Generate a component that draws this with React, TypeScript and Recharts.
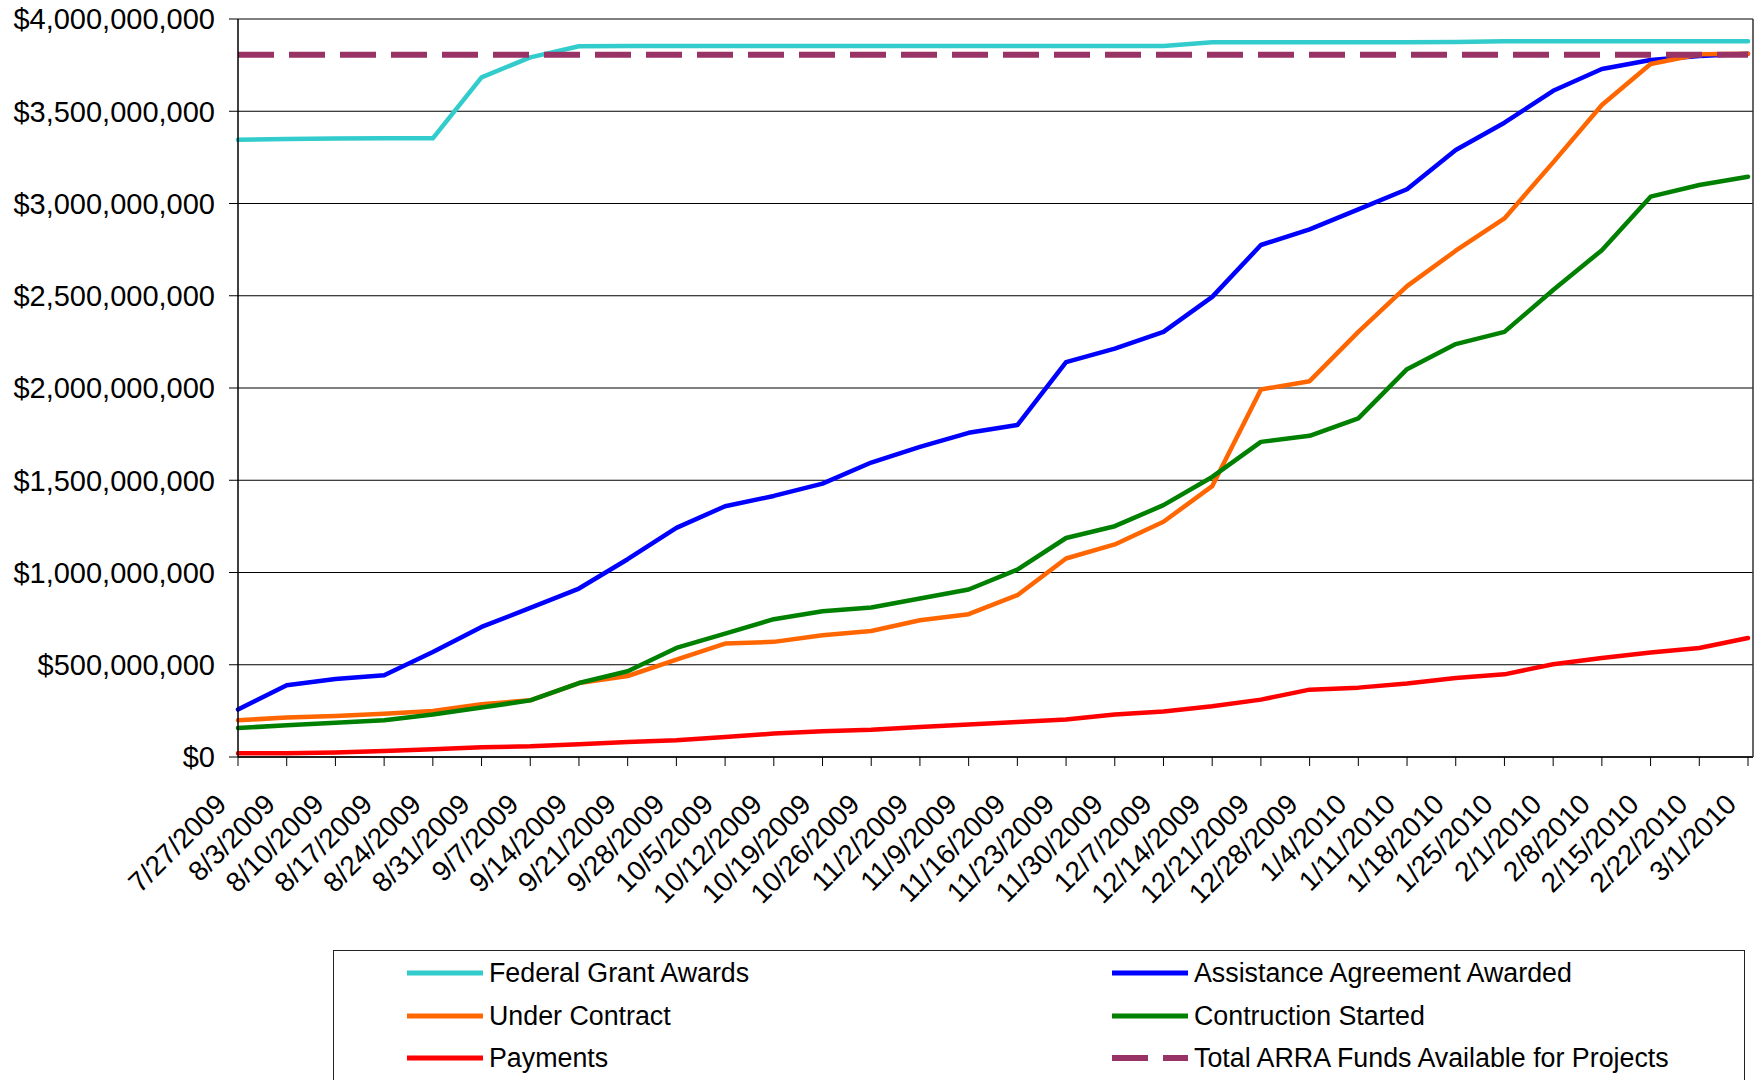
import React from 'react';
import { LineChart, Line, XAxis, YAxis, CartesianGrid, Legend } from 'recharts';

if (typeof document !== 'undefined') {
  document.body.style.margin = '0';
}

const FONT = '"Liberation Sans", Arial, sans-serif';

const dates = [
  '7/27/2009', '8/3/2009', '8/10/2009', '8/17/2009', '8/24/2009', '8/31/2009', '9/7/2009', '9/14/2009',
  '9/21/2009', '9/28/2009', '10/5/2009', '10/12/2009', '10/19/2009', '10/26/2009', '11/2/2009', '11/9/2009',
  '11/16/2009', '11/23/2009', '11/30/2009', '12/7/2009', '12/14/2009', '12/21/2009', '12/28/2009', '1/4/2010',
  '1/11/2010', '1/18/2010', '1/25/2010', '2/1/2010', '2/8/2010', '2/15/2010', '2/22/2010', '3/1/2010',
];

// values in millions of dollars
const federalGrantAwards = [
  3345, 3350, 3352, 3353, 3353, 3684, 3792, 3852, 3853, 3853, 3853, 3853, 3853, 3853, 3853, 3853,
  3853, 3854, 3854, 3854, 3874, 3874, 3874, 3874, 3874, 3875, 3879, 3879, 3879, 3879, 3879, 3879,
];
const assistanceAgreementAwarded = [
  257, 389, 423, 443, 569, 705, 808, 913, 1072, 1242, 1359, 1415, 1482, 1596, 1681, 1757,
  1799, 2140, 2213, 2304, 2494, 2775, 2860, 2968, 3077, 3290, 3438, 3611, 3729, 3778, 3800, 3812,
];
const underContract = [
  199, 214, 222, 235, 249, 286, 307, 401, 439, 528, 615, 624, 660, 683, 741, 774,
  877, 1076, 1152, 1275, 1468, 1992, 2037, 2304, 2552, 2744, 2919, 3223, 3534, 3756, 3809, 3812,
];
const constructionStarted = [
  157, 172, 186, 199, 230, 268, 307, 401, 465, 591, 669, 747, 790, 810, 859, 908,
  1016, 1187, 1251, 1365, 1518, 1708, 1741, 1835, 2102, 2238, 2304, 2531, 2747, 3037, 3100, 3145,
];
const payments = [
  20, 21, 25, 33, 42, 53, 58, 69, 81, 91, 108, 127, 139, 148, 163, 176,
  190, 203, 230, 247, 275, 311, 365, 376, 398, 428, 448, 503, 537, 566, 591, 645,
];
const totalArraFunds = [
  3806, 3806, 3806, 3806, 3806, 3806, 3806, 3806, 3806, 3806, 3806, 3806, 3806, 3806, 3806, 3806,
  3806, 3806, 3806, 3806, 3806, 3806, 3806, 3806, 3806, 3806, 3806, 3806, 3806, 3806, 3806, 3806,
];

const yTicks = [0, 500000000, 1000000000, 1500000000, 2000000000, 2500000000, 3000000000, 3500000000, 4000000000];

const series = [
  { key: 'fga', name: 'Federal Grant Awards', color: '#33CCCC', values: federalGrantAwards, dash: '' },
  { key: 'aaa', name: 'Assistance Agreement Awarded', color: '#0000FF', values: assistanceAgreementAwarded, dash: '' },
  { key: 'uc', name: 'Under Contract', color: '#FF6600', values: underContract, dash: '' },
  { key: 'cs', name: 'Contruction Started', color: '#008000', values: constructionStarted, dash: '' },
  { key: 'pay', name: 'Payments', color: '#FF0000', values: payments, dash: '' },
  { key: 'arra', name: 'Total ARRA Funds Available for Projects', color: '#993366', values: totalArraFunds, dash: '36 15' },
];

const data = dates.map((d, i) => {
  const row: Record<string, string | number> = { date: d };
  series.forEach((s) => {
    row[s.key] = s.values[i] * 1000000;
  });
  return row;
});

const fmtY = (v: number) => (v === 0 ? '$0' : '$' + v.toLocaleString('en-US'));

const XTick = (props: any) => {
  const { x, y, payload } = props;
  const tx = x - 10;
  return (
    <text
      x={tx}
      y={y}
      textAnchor="end"
      transform={`rotate(-45 ${tx} ${y})`}
      fontSize={28}
      fontFamily={FONT}
      fill="#000"
    >
      {payload.value}
    </text>
  );
};

const renderLegend = () => (
  <div
    style={{
      position: 'relative',
      width: 1412,
      height: 140,
      boxSizing: 'border-box',
      border: '1px solid #222',
      background: '#fff',
      fontFamily: FONT,
    }}
  >
    {series.map((s, i) => {
      const col = i % 2;
      const row = Math.floor(i / 2);
      const left = col === 0 ? 73 : 778;
      const cy = 22 + row * 42.5;
      return (
        <div key={s.key} style={{ position: 'absolute', left, top: cy - 18, height: 36, display: 'flex', alignItems: 'center' }}>
          <svg width={76} height={10} style={{ display: 'block' }}>
            <line
              x1={0}
              y1={5}
              x2={76}
              y2={5}
              stroke={s.color}
              strokeWidth={s.dash ? 6 : 5}
              strokeDasharray={s.dash || undefined}
              strokeLinecap={s.dash ? 'butt' : 'round'}
            />
          </svg>
          <span style={{ marginLeft: 6, fontSize: 26.8, color: '#000', whiteSpace: 'nowrap', lineHeight: '36px' }}>{s.name}</span>
        </div>
      );
    })}
  </div>
);

export default function App() {
  return (
    <div style={{ width: 1758, height: 1080, overflow: 'hidden', position: 'relative', background: '#fff' }}>
      <LineChart width={1758} height={1080} data={data} margin={{ top: 19, right: 0, left: 0, bottom: 173 }}>
        <CartesianGrid vertical={false} stroke="#000" strokeWidth={1} />
        <XAxis
          dataKey="date"
          interval={0}
          tickSize={9}
          tickMargin={40}
          height={150}
          padding={{ left: 0, right: 5 }}
          axisLine={{ stroke: '#000', strokeWidth: 1.5 }}
          tickLine={{ stroke: '#000' }}
          tick={<XTick />}
        />
        <YAxis
          width={238}
          domain={[0, 4000000000]}
          ticks={yTicks}
          tickFormatter={fmtY}
          tickSize={9}
          tickMargin={14}
          axisLine={{ stroke: '#000', strokeWidth: 1.5 }}
          tickLine={{ stroke: '#000' }}
          tick={{ fontSize: 29, fontFamily: FONT, fill: '#000' }}
          interval={0}
        />
        <YAxis
          yAxisId="r"
          orientation="right"
          width={5}
          domain={[0, 4000000000]}
          tick={false}
          tickLine={false}
          axisLine={{ stroke: '#333', strokeWidth: 1.5 }}
        />
        {series.map((s) => (
          <Line
            key={s.key}
            type="linear"
            dataKey={s.key}
            name={s.name}
            stroke={s.color}
            strokeWidth={s.dash ? 6 : 4.5}
            strokeDasharray={s.dash || undefined}
            strokeLinejoin="round"
            strokeLinecap={s.dash ? 'butt' : 'round'}
            dot={false}
            activeDot={false}
            isAnimationActive={false}
          />
        ))}
        <Legend
          layout="vertical"
          align="center"
          verticalAlign="middle"
          content={renderLegend}
          wrapperStyle={{ position: 'absolute', left: 333, top: 950, width: 1412, height: 140, margin: 0 }}
        />
      </LineChart>
    </div>
  );
}
